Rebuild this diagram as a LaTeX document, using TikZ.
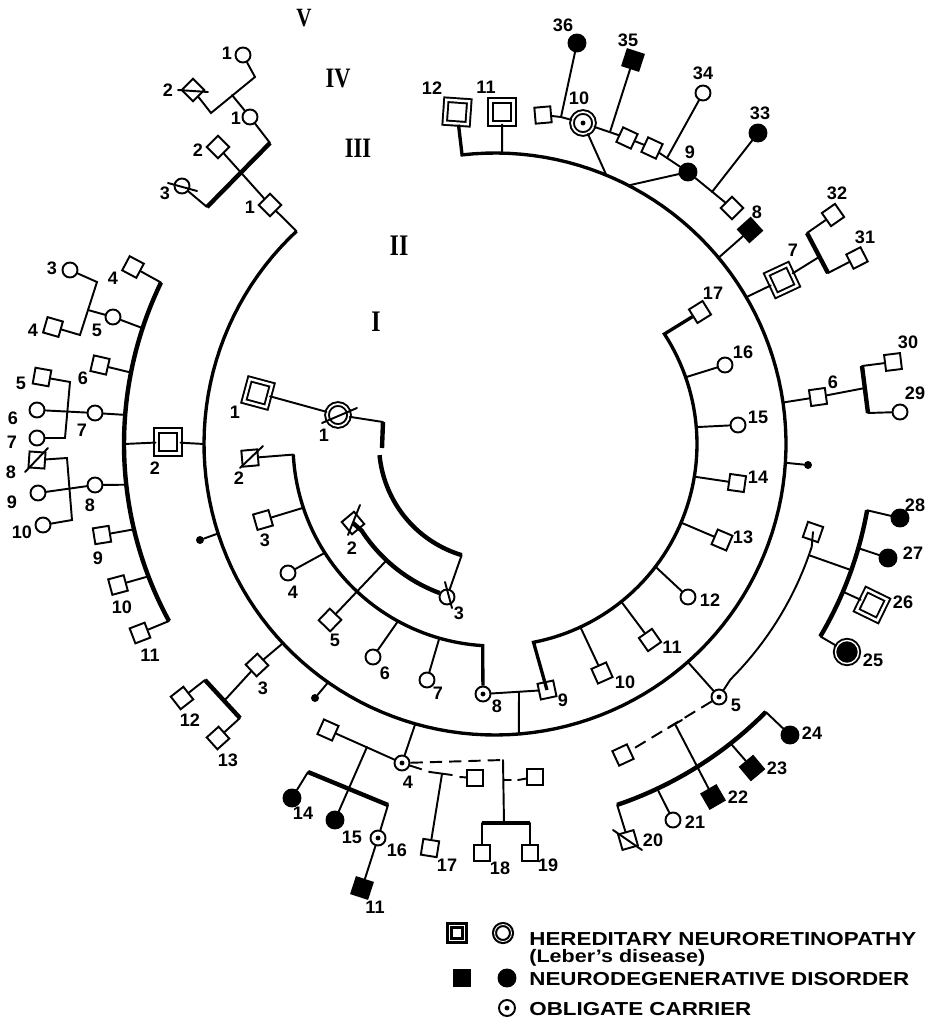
\documentclass[tikz,border=0pt]{standalone}
\usepackage{fontspec}
\setmainfont{Liberation Serif}
\newfontfamily\numfont{Liberation Sans}
\newfontfamily\keyfont[FakeStretch=1.19]{Liberation Sans}
\newfontfamily\genfont[FakeStretch=0.8]{Liberation Serif}
\tikzset{
    pedigree line/.style={line width=1.1pt, line cap=round},
    ring line/.style={line width=1.9pt},
    sibship line/.style={line width=2.5pt},
    dashed line/.style={line width=1.1pt, dash pattern=on 7pt off 4pt},
    male/.style={draw, fill=white, line width=1.1pt, minimum size=0.32cm, inner sep=0pt, rotate=#1},
    male/.default=0,
    male ill/.style={male=#1, fill=black, minimum size=0.34cm},
    male ill/.default=0,
    male leber/.style={male=#1, minimum size=0.46cm, double, double distance=1.4pt},
    male leber/.default=0,
    female/.style={circle, draw, fill=white, line width=1.1pt, minimum size=0.3cm, inner sep=0pt},
    female ill/.style={female, fill=black, minimum size=0.34cm},
    female leber/.style={female, minimum size=0.44cm, double, double distance=1pt},
    dot inside/.style={path picture={\fill[black] (path picture bounding box.center) circle (1.4pt);}},
    carrier/.style={female, dot inside},
    female ring ill/.style={female, fill=black, minimum size=0.46cm, double, double distance=0.8pt},
    end dot/.style={circle, fill=black, minimum size=0.16cm, inner sep=0pt},
    tag/.style={font=\numfont\bfseries\fontsize{10.3pt}{11pt}\selectfont, inner sep=0pt},
    gen tag/.style={font=\genfont\bfseries\fontsize{#1}{#1}\selectfont, inner sep=0pt},
    key text/.style={font=\keyfont\bfseries\fontsize{10.7pt}{12pt}\selectfont, inner sep=0pt, anchor=base west},
    key note/.style={font=\keyfont\bfseries\fontsize{10.3pt}{11pt}\selectfont, inner sep=0pt, anchor=base west}
}

\begin{document}
\begin{tikzpicture}[x=0.02cm, y=-0.02cm]
    \useasboundingbox (0,0) rectangle (925,1025);
    \coordinate (C) at (495,444);

    \node[gen tag=15pt] (gV) at (304,18) {V};
    \node[gen tag=16pt] (gIV) at (338,79) {IV};
    \node[gen tag=16pt] (gIII) at (358,148) {III};
    \node[gen tag=17pt] (gII) at (399,246) {II};
    \node[gen tag=17pt] (gI) at (376,322) {I};

    \node[female] (v1) at (243,55) {};
    \node[male=45] (v2) at (193,90) {};
    \node[female] (iv1) at (250,117) {};
    \node[male=45] (iii2) at (218,147) {};
    \node[female] (iii3) at (182,186) {};
    \node[male=45] (iii1) at (270,205) {};
    \coordinate (A1) at (255,77);
    \coordinate (A2) at (232,95);
    \coordinate (A3) at (211,113);
    \coordinate (B1) at (270,143);
    \coordinate (B3) at (207,207);
    \draw[pedigree line] (v1) -- (A1) -- (A3) -- (v2);
    \draw[pedigree line] (A2) -- (iv1) -- (B1);
    \draw[sibship line] (B1) -- (B3);
    \draw[pedigree line] (B3) -- (iii3);
    \draw[pedigree line] (iii2) -- (iii1) -- ([shift={(227:291)}]C);
    \draw[pedigree line] ([shift={(-15,0)}]v2.center) -- ([shift={(15,2)}]v2.center);
    \draw[pedigree line] ([shift={(-14,-3)}]iii3.center) -- ([shift={(15,5)}]iii3.center);
    \node[tag] (tv1) at (227,53) {1};
    \node[tag] (tv2) at (168,90) {2};
    \node[tag] (tiv1) at (236,118) {1};
    \node[tag] (tiii2) at (198,150) {2};
    \node[tag] (tiii3) at (165,193) {3};
    \node[tag] (tiii1) at (250,207) {1};

    \node[male leber=-4] (sq12) at (457,112) {};
    \node[male leber] (sq11) at (502,112) {};
    \node[male=5] (u1) at (543,115) {};
    \node[female leber, dot inside] (c10) at (583,123) {};
    \node[female ill] (f36) at (577,43) {};
    \node[male ill=-18] (f35) at (633,60) {};
    \node[female] (c34) at (703,93) {};
    \node[male=-25] (s1) at (627,138) {};
    \node[male=-25] (s2) at (652,148) {};
    \node[female ill] (c9) at (688,172) {};
    \node[female ill] (f33) at (758,133) {};
    \node[male=45] (u2) at (732,208) {};
    \node[male ill=42] (f8) at (750,230) {};
    \node[male leber=25] (d7) at (782,280) {};
    \node[male=35] (s32) at (833,215) {};
    \node[male=27] (s31) at (857,258) {};
    \coordinate (M1) at (561,117);
    \coordinate (T1) at (610,132);
    \coordinate (T2) at (667,158);
    \coordinate (T3) at (712,192);
    \coordinate (E0) at (807,233);
    \coordinate (E1) at (819,257);
    \coordinate (E2) at (828,273);
    \draw[ring line] plot[domain=227:-96.5, samples=140] ({495+291*cos(\x)}, {444+291*sin(\x)}) -- (sq12);
    \draw[pedigree line] (sq11) -- ([shift={(-88.6:291)}]C);
    \draw[pedigree line] (u1) -- (M1) -- (c10);
    \draw[pedigree line] (f36) -- (M1);
    \draw[pedigree line] (c10) -- ([shift={(-67.5:291)}]C);
    \draw[pedigree line] (c10) -- (s1) -- (s2) -- (c9);
    \draw[pedigree line] (f35) -- (T1);
    \draw[pedigree line] (c34) -- (T2);
    \draw[pedigree line] (c9) -- ([shift={(-62.7:291)}]C);
    \draw[pedigree line] (c9) -- (u2);
    \draw[pedigree line] (f33) -- (T3);
    \draw[pedigree line] (f8) -- ([shift={(-39.8:291)}]C);
    \draw[pedigree line] ([shift={(-30.3:291)}]C) -- (d7) -- (E1);
    \draw[sibship line] (E0) -- (E2);
    \draw[pedigree line] (E0) -- (s32);
    \draw[pedigree line] (E2) -- (s31);
    \node[tag] (tsq12) at (432,88) {12};
    \node[tag] (tsq11) at (486,87) {11};
    \node[tag] (tc10) at (579,98) {10};
    \node[tag] (tf36) at (563,25) {36};
    \node[tag] (tf35) at (628,40) {35};
    \node[tag] (tc34) at (703,73) {34};
    \node[tag] (tc9) at (690,152) {9};
    \node[tag] (tf33) at (760,113) {33};
    \node[tag] (tf8) at (757,212) {8};
    \node[tag] (td7) at (793,250) {7};
    \node[tag] (ts32) at (837,193) {32};
    \node[tag] (ts31) at (865,237) {31};

    \node[male=8] (s6) at (818,397) {};
    \node[male=7] (s30) at (893,362) {};
    \node[female] (c29) at (900,412) {};
    \node[end dot] (dt1) at (808,465) {};
    \coordinate (G0) at (862,366);
    \coordinate (G1) at (865,388);
    \coordinate (G2) at (868,413);
    \draw[pedigree line] ([shift={(-8.2:291)}]C) -- (s6) -- (G1);
    \draw[sibship line] (G0) -- (G2);
    \draw[pedigree line] (G0) -- (s30);
    \draw[pedigree line] (G2) -- (c29);
    \draw[pedigree line] ([shift={(3.7:291)}]C) -- (dt1);
    \node[tag] (ts6) at (833,382) {6};
    \node[tag] (ts30) at (908,342) {30};
    \node[tag] (tc29) at (915,393) {29};

    \node[male=-19] (u3) at (813,532) {};
    \node[carrier] (c5) at (719,697) {};
    \node[female ill] (f28) at (900,518) {};
    \node[female ill] (f27) at (888,558) {};
    \node[male leber=-26] (d26) at (872,605) {};
    \node[female ring ill] (c25) at (847,652) {};
    \draw[pedigree line] (u3) -- plot[domain=18:45, samples=20] ({495+333*cos(\x)}, {444+333*sin(\x)}) -- (c5);
    \draw[pedigree line] (c5) -- ([shift={(48.5:291)}]C);
    \draw[pedigree line] ([shift={(19.5:333)}]C) -- ([shift={(19.5:378)}]C);
    \draw[sibship line] plot[domain=10.1:30.6, samples=20] ({495+378*cos(\x)}, {444+378*sin(\x)});
    \draw[pedigree line] (f28) -- ([shift={(10.1:378)}]C);
    \draw[pedigree line] (f27) -- ([shift={(16:378)}]C);
    \draw[pedigree line] (d26) -- ([shift={(23:378)}]C);
    \draw[pedigree line] (c25) -- ([shift={(30.6:378)}]C);
    \node[tag] (tc5) at (736,705) {5};
    \node[tag] (tf28) at (915,505) {28};
    \node[tag] (tf27) at (913,553) {27};
    \node[tag] (td26) at (903,602) {26};
    \node[tag] (tc25) at (873,660) {25};

    \node[male=25] (u4) at (623,755) {};
    \node[male=16] (s20) at (628,840) {};
    \node[female] (c21) at (673,820) {};
    \node[male ill=30] (f22) at (713,797) {};
    \node[male ill=40] (f23) at (752,768) {};
    \node[female ill] (f24) at (790,735) {};
    \coordinate (H1) at (675,724);
    \draw[dashed line] (c5) -- (u4);
    \draw[pedigree line] ([shift={(-7,4)}]H1) -- ([shift={(7,-4)}]H1);
    \draw[pedigree line] (H1) -- (f22);
    \draw[sibship line] plot[domain=44.7:71.3, samples=20] ({495+381*cos(\x)}, {444+381*sin(\x)});
    \draw[pedigree line] (f24) -- ([shift={(44.7:381)}]C);
    \draw[pedigree line] (f23) -- ([shift={(51.8:381)}]C);
    \draw[pedigree line] (c21) -- ([shift={(64.8:381)}]C);
    \draw[pedigree line] ([shift={(71.3:381)}]C) -- (s20);
    \draw[pedigree line] ([shift={(-15,-10)}]s20.center) -- ([shift={(14,10)}]s20.center);
    \node[tag] (tf24) at (812,733) {24};
    \node[tag] (tf23) at (777,768) {23};
    \node[tag] (tf22) at (738,797) {22};
    \node[tag] (tc21) at (695,822) {21};
    \node[tag] (ts20) at (653,840) {20};

    \node[male=12] (sq9) at (547,690) {};
    \node[carrier] (c8) at (483,694) {};
    \node[male=24] (s10) at (602,673) {};
    \node[male=35] (s11) at (650,640) {};
    \node[female] (c12) at (688,597) {};
    \node[male=-23] (s13) at (722,540) {};
    \node[male=-8] (s14) at (737,483) {};
    \node[female] (c15) at (738,425) {};
    \node[female] (c16) at (725,365) {};
    \node[male=32] (s17) at (700,312) {};
    \coordinate (M8) at (519,692);
    \draw[pedigree line] (c8) -- (sq9);
    \draw[pedigree line] (M8) -- ([shift={(85.3:291)}]C);
    \draw[ring line] (sq9) -- plot[domain=79:-33, samples=60] ({495+202*cos(\x)}, {444+202*sin(\x)}) -- (s17);
    \draw[pedigree line] (s10) -- ([shift={(65:202)}]C);
    \draw[pedigree line] (s11) -- ([shift={(51.3:202)}]C);
    \draw[pedigree line] (c12) -- ([shift={(37.4:202)}]C);
    \draw[pedigree line] (s13) -- ([shift={(22.9:202)}]C);
    \draw[pedigree line] (s14) -- ([shift={(9.3:202)}]C);
    \draw[pedigree line] (c15) -- ([shift={(-4.8:202)}]C);
    \draw[pedigree line] (c16) -- ([shift={(-19.3:202)}]C);
    \node[tag] (tsq9) at (563,700) {9};
    \node[tag] (tc8) at (497,706) {8};
    \node[tag] (ts10) at (625,682) {10};
    \node[tag] (ts11) at (672,647) {11};
    \node[tag] (tc12) at (710,600) {12};
    \node[tag] (ts13) at (743,537) {13};
    \node[tag] (ts14) at (758,477) {14};
    \node[tag] (tc15) at (758,417) {15};
    \node[tag] (tc16) at (743,352) {16};
    \node[tag] (ts17) at (713,293) {17};

    \node[male leber=-15] (i1) at (258,393) {};
    \node[female leber] (i2) at (338,415) {};
    \node[male=5] (sl2) at (250,458) {};
    \node[male=16] (s3) at (263,520) {};
    \node[female] (c4) at (288,573) {};
    \node[male=46] (s5) at (330,620) {};
    \node[female] (c6) at (373,657) {};
    \node[female] (c7) at (427,680) {};
    \node[male=40] (d2) at (353,523) {};
    \node[female] (c3) at (447,597) {};
    \coordinate (K1) at (383,422);
    \coordinate (K2) at (382,448);
    \draw[pedigree line] (i1) -- (i2) -- (K1);
    \draw[sibship line] (K1) -- (K2);
    \draw[sibship line] plot[domain=174.5:106.7, samples=40] ({495+116*cos(\x)}, {444+116*sin(\x)});
    \draw[pedigree line] ([shift={(106.7:116)}]C) -- (c3);
    \draw[sibship line] (d2) -- plot[domain=147:110.6, samples=30] ({495+159*cos(\x)}, {444+159*sin(\x)}) -- (c3);
    \draw[pedigree line] ([shift={(133:159)}]C) -- (s5);
    \draw[pedigree line] (sl2) -- ([shift={(177:202)}]C);
    \draw[ring line] plot[domain=177:93.5, samples=50] ({495+202*cos(\x)}, {444+202*sin(\x)}) -- (c8);
    \draw[pedigree line] (s3) -- ([shift={(161.6:202)}]C);
    \draw[pedigree line] (c4) -- ([shift={(147.4:202)}]C);
    \draw[pedigree line] (c6) -- ([shift={(118.7:202)}]C);
    \draw[pedigree line] (c7) -- ([shift={(106:202)}]C);
    \draw[pedigree line] ([shift={(-16,8)}]i2.center) -- ([shift={(19,-7)}]i2.center);
    \draw[pedigree line] ([shift={(-10,10)}]sl2.center) -- ([shift={(13,-12)}]sl2.center);
    \draw[pedigree line] ([shift={(-5,12)}]d2.center) -- ([shift={(7,-18)}]d2.center);
    \draw[pedigree line] ([shift={(-2,-15)}]c3.center) -- ([shift={(5,11)}]c3.center);
    \node[tag] (ti1) at (235,412) {1};
    \node[tag] (ti2) at (324,435) {1};
    \node[tag] (tsl2) at (239,478) {2};
    \node[tag] (ts3) at (265,540) {3};
    \node[tag] (tc4) at (293,592) {4};
    \node[tag] (ts5) at (335,640) {5};
    \node[tag] (tc6) at (385,673) {6};
    \node[tag] (tc7) at (438,693) {7};
    \node[tag] (td2) at (352,548) {2};
    \node[tag] (tc3) at (459,613) {3};

    \node[male leber] (ii2) at (168,442) {};
    \node[male=-28] (s4) at (133,267) {};
    \node[female] (c5l) at (113,317) {};
    \node[male=-13] (s6l) at (100,365) {};
    \node[female] (c7l) at (95,413) {};
    \node[female] (c8l) at (95,485) {};
    \node[male=9] (s9l) at (102,535) {};
    \node[male=15] (s10l) at (118,585) {};
    \node[male=21] (s11l) at (140,633) {};
    \node[female] (c3f) at (70,270) {};
    \node[male=-16] (s4f) at (53,327) {};
    \node[male=-10] (s5f) at (42,377) {};
    \node[female] (c6f) at (37,410) {};
    \node[female] (c7f) at (37,438) {};
    \node[male=-4] (s8f) at (37,460) {};
    \node[female] (c9f) at (38,493) {};
    \node[female] (c10f) at (43,525) {};
    \node[end dot] (dt2) at (200,540) {};
    \coordinate (Q1) at (97,282);
    \coordinate (Q2) at (80,335);
    \coordinate (Q3) at (88,310);
    \coordinate (R1) at (70,382);
    \coordinate (R2) at (65,438);
    \coordinate (W1) at (67,458);
    \coordinate (W2) at (72,520);
    \draw[pedigree line] ([shift={(180:371)}]C) -- (ii2) -- ([shift={(180:291)}]C);
    \draw[sibship line] plot[domain=205.8:151.5, samples=50] ({495+371*cos(\x)}, {444+371*sin(\x)});
    \draw[pedigree line] (s4) -- ([shift={(205.8:371)}]C);
    \draw[pedigree line] (c5l) -- ([shift={(198.2:371)}]C);
    \draw[pedigree line] (s6l) -- ([shift={(191.1:371)}]C);
    \draw[pedigree line] (c7l) -- ([shift={(184.5:371)}]C);
    \draw[pedigree line] (c8l) -- ([shift={(173.7:371)}]C);
    \draw[pedigree line] (s9l) -- ([shift={(166.7:371)}]C);
    \draw[pedigree line] (s10l) -- ([shift={(159.1:371)}]C);
    \draw[pedigree line] (s11l) -- ([shift={(151.5:371)}]C);
    \draw[pedigree line] (c3f) -- (Q1) -- (Q2) -- (s4f);
    \draw[pedigree line] (Q3) -- (c5l);
    \draw[pedigree line] (s5f) -- (R1) -- (R2) -- (c7f);
    \draw[pedigree line] (c6f) -- (c7l);
    \draw[pedigree line] (s8f) -- (W1) -- (W2) -- (c10f);
    \draw[pedigree line] (c9f) -- (c8l);
    \draw[pedigree line] ([shift={(-12,12)}]s8f.center) -- ([shift={(11,-12)}]s8f.center);
    \draw[pedigree line] (dt2) -- ([shift={(162.1:291)}]C);
    \node[tag] (tii2) at (155,468) {2};
    \node[tag] (ts4) at (113,278) {4};
    \node[tag] (tc5l) at (97,330) {5};
    \node[tag] (ts6l) at (83,378) {6};
    \node[tag] (tc7l) at (82,430) {7};
    \node[tag] (tc8l) at (90,505) {8};
    \node[tag] (ts9l) at (98,558) {9};
    \node[tag] (ts10l) at (122,607) {10};
    \node[tag] (ts11l) at (150,655) {11};
    \node[tag] (tc3f) at (52,268) {3};
    \node[tag] (ts4f) at (33,330) {4};
    \node[tag] (ts5f) at (21,383) {5};
    \node[tag] (tc6f) at (13,418) {6};
    \node[tag] (tc7f) at (12,442) {7};
    \node[tag] (ts8f) at (11,472) {8};
    \node[tag] (tc9f) at (12,502) {9};
    \node[tag] (tc10f) at (22,532) {10};

    \node[male=43] (s3b) at (257,665) {};
    \node[male=38] (s12b) at (182,698) {};
    \node[male=42] (s13b) at (218,738) {};
    \node[end dot] (dt3) at (315,698) {};
    \coordinate (N0) at (205,680);
    \coordinate (N1) at (224,701);
    \coordinate (N2) at (240,718);
    \draw[pedigree line] ([shift={(136.8:291)}]C) -- (s3b) -- (N1);
    \draw[sibship line] (N0) -- (N2);
    \draw[pedigree line] (N0) -- (s12b);
    \draw[pedigree line] (N2) -- (s13b);
    \draw[pedigree line] (dt3) -- ([shift={(125:291)}]C);
    \node[tag] (ts3b) at (263,688) {3};
    \node[tag] (ts12b) at (190,720) {12};
    \node[tag] (ts13b) at (228,760) {13};

    \node[carrier] (c4b) at (402,763) {};
    \node[male=-24] (u5) at (328,730) {};
    \node[female ill] (f14) at (292,798) {};
    \node[female ill] (f15) at (335,820) {};
    \node[carrier] (c16b) at (378,838) {};
    \node[male ill=-18] (f11) at (362,888) {};
    \node[male=-9] (s17b) at (430,848) {};
    \node[male] (sp1) at (475,778) {};
    \node[male] (sp2) at (535,777) {};
    \node[male] (s18) at (482,853) {};
    \node[male] (s19) at (530,853) {};
    \coordinate (M4) at (367,747);
    \coordinate (O0) at (308,772);
    \coordinate (O1) at (388,805);
    \coordinate (J1) at (430,772);
    \coordinate (J2) at (452,775);
    \coordinate (J3) at (442,774);
    \coordinate (J4) at (460,777);
    \coordinate (L1) at (503,760);
    \coordinate (L2) at (504,823);
    \coordinate (L3) at (482,823);
    \coordinate (L4) at (530,823);
    \coordinate (L5) at (504,780);
    \coordinate (L6) at (511,780);
    \coordinate (L7) at (518,780);
    \draw[pedigree line] (c4b) -- ([shift={(105.9:291)}]C);
    \draw[pedigree line] (u5) -- (c4b);
    \draw[pedigree line] (M4) -- (f15);
    \draw[sibship line] (O0) -- (O1);
    \draw[pedigree line] (O0) -- (f14);
    \draw[pedigree line] (O1) -- (c16b) -- (f11);
    \draw[dashed line] (c4b) -- (J1);
    \draw[pedigree line] (J1) -- (J2);
    \draw[pedigree line] (J3) -- (s17b);
    \draw[pedigree line] (J4) -- (sp1);
    \draw[dashed line] (c4b) -- (L1);
    \draw[pedigree line] (L1) -- (L2);
    \draw[sibship line] (L3) -- (L4);
    \draw[pedigree line] (L3) -- (s18);
    \draw[pedigree line] (L4) -- (s19);
    \draw[pedigree line] (L5) -- (L6);
    \draw[pedigree line] (L7) -- (sp2);
    \node[tag] (tc4b) at (408,782) {4};
    \node[tag] (tf14) at (303,813) {14};
    \node[tag] (tf15) at (352,837) {15};
    \node[tag] (tc16b) at (397,850) {16};
    \node[tag] (tf11) at (375,907) {11};
    \node[tag] (ts17b) at (447,865) {17};
    \node[tag] (ts18) at (500,868) {18};
    \node[tag] (ts19) at (548,865) {19};

    \node[male leber, minimum size=0.3cm, line width=1.4pt, double distance=0.7pt] (k1) at (457,933) {};
    \node[female leber, minimum size=0.34cm, line width=1.2pt, double distance=0.5pt] (k2) at (503,933) {};
    \node[male ill] (k3) at (462,978) {};
    \node[female ill] (k4) at (507,978) {};
    \node[carrier, minimum size=0.32cm] (k5) at (507,1008) {};
    \node[key text] (kt1) at (529,945) {HEREDITARY NEURORETINOPATHY};
    \node[key note] (kt2) at (529,962) {(Leber’s disease)};
    \node[key text] (kt3) at (529,985) {NEURODEGENERATIVE DISORDER};
    \node[key text] (kt4) at (529,1015) {OBLIGATE CARRIER};
\end{tikzpicture}
\end{document}
